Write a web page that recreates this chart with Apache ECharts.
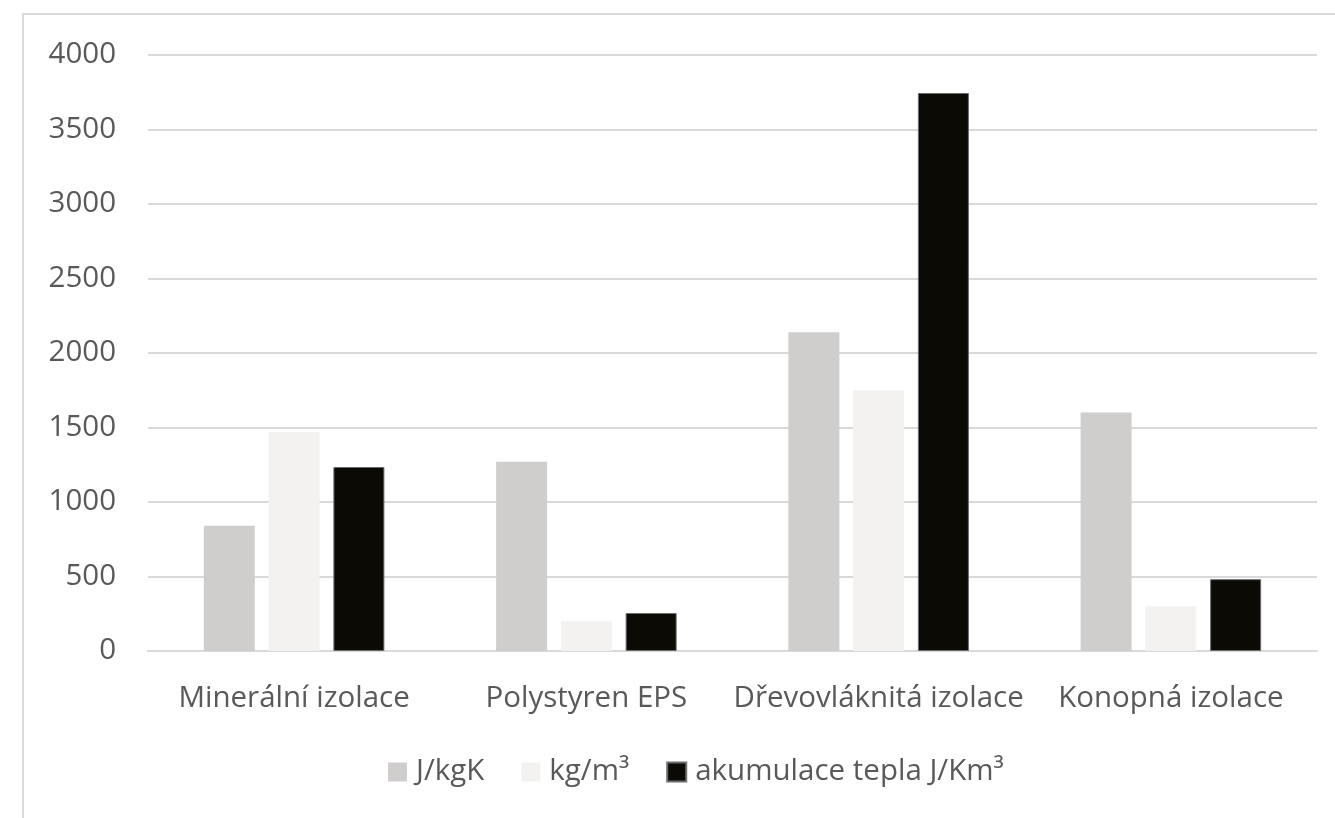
<!DOCTYPE html>
<html><head><meta charset="utf-8">
<script src="https://cdn.jsdelivr.net/npm/echarts@6/dist/echarts.min.js"></script>
<style>html,body{margin:0;padding:0;background:#fff}#c{width:1335px;height:818px}</style>
</head><body><div id="c"></div>
<script>
const categories = ['Minerální izolace', 'Polystyren EPS', 'Dřevovláknitá izolace', 'Konopná izolace'];
const seriesNames = ['J/kgK', 'kg/m³', 'akumulace tepla J/Km³'];
const jkgk = [840, 1270, 2140, 1600];
const kgm3 = [1470, 200, 1750, 300];
const akumulace = [1235, 255, 3745, 482];
const colors = ['#d0cdcd', '#f3f2f0', '#0b0a05'];

const chart = echarts.init(document.getElementById('c'), null, {renderer: 'canvas'});
const font = "'Open Sans', sans-serif";
const mk = (name, data, i) => ({
  name, type: 'bar', data,
  barWidth: 51, barGap: '27%',
  itemStyle: {color: colors[i], borderColor: i === 2 ? '#6b6b6b' : colors[i], borderWidth: i === 2 ? 1 : 0},
  emphasis: {disabled: true}
});
chart.setOption({
  animation: false,
  textStyle: {fontFamily: font},
  graphic: [{type: 'rect', shape: {x: 23, y: 14, width: 1340, height: 830}, style: {fill: 'none', stroke: '#d9d9d9', lineWidth: 2}, silent: true, z: -1}],
  grid: {left: 148, right: 18, top: 55, bottom: 167},
  legend: {
    data: seriesNames, left: 383, top: 752, itemWidth: 19, itemHeight: 19, itemGap: 37,
    icon: 'rect',
    textStyle: {fontFamily: font, fontSize: 29.5, color: '#595959', padding: [0, 0, 0, 4]}
  },
  xAxis: {
    type: 'category', data: categories,
    axisLine: {lineStyle: {color: '#d9d9d9', width: 2}},
    axisTick: {show: false},
    axisLabel: {fontFamily: font, fontSize: 29.5, color: '#595959', margin: 33, interval: 0}
  },
  yAxis: {
    type: 'value', min: 0, max: 4000, interval: 500,
    axisLine: {show: false}, axisTick: {show: false},
    splitLine: {lineStyle: {color: '#d9d9d9', width: 2}},
    axisLabel: {fontFamily: font, fontSize: 29.5, color: '#595959', margin: 32, formatter: v => String(v)}
  },
  series: [mk(seriesNames[0], jkgk, 0), mk(seriesNames[1], kgm3, 1), mk(seriesNames[2], akumulace, 2)]
});
</script></body></html>
